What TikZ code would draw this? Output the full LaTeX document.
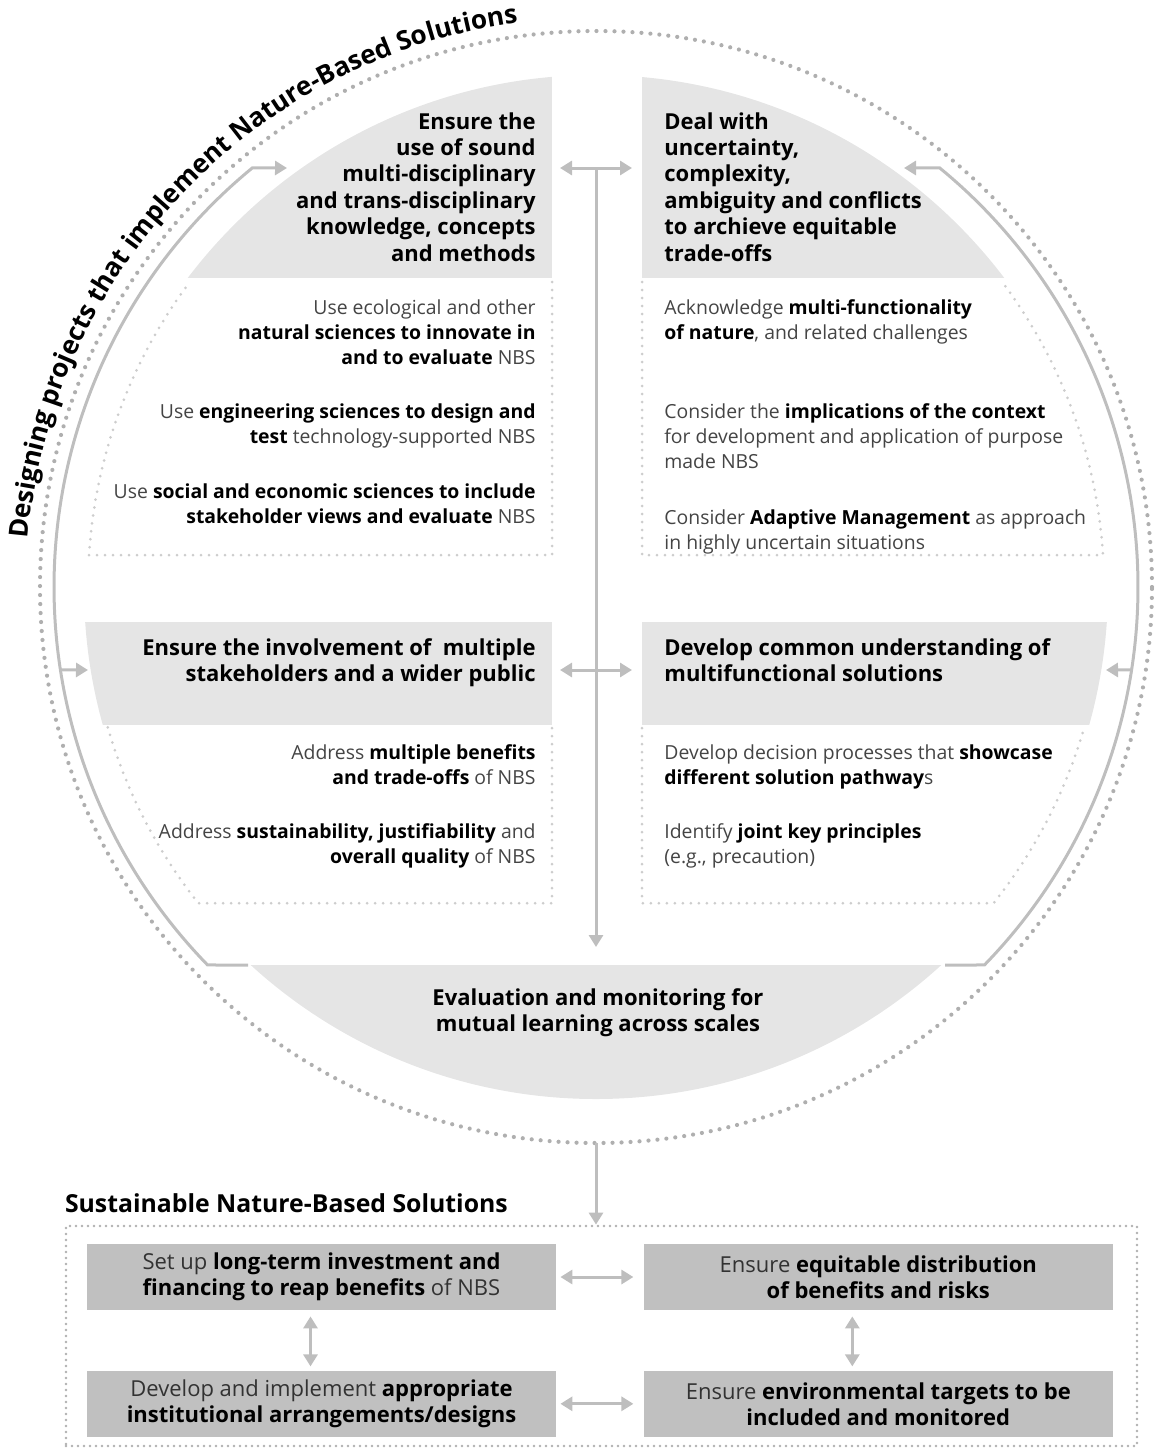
\documentclass[tikz,border=0pt]{standalone}
\usepackage{fontspec}
\setmainfont{Open Sans}
\usepackage{tikz}
\usetikzlibrary{arrows.meta,positioning,calc,decorations.text}
\definecolor{hdrgrey}{RGB}{229,229,229}
\definecolor{boxgrey}{RGB}{192,192,192}
\definecolor{arrgrey}{RGB}{190,190,190}
\definecolor{dotgrey}{RGB}{175,175,175}
\definecolor{dotlight}{RGB}{205,205,205}
\definecolor{txtgrey}{RGB}{68,68,68}
\definecolor{boxtxt}{RGB}{50,50,50}
\newcommand{\hl}[1]{\textbf{\color{black}#1}}

\begin{document}
\begin{tikzpicture}[x=0.5pt, y=0.5pt,
    hdr/.style={inner sep=0pt, font=\bfseries\fontsize{11}{13.2}\selectfont, text=black},
    hdrleft/.style={hdr, align=left, anchor=north west},
    hdrright/.style={hdr, align=right, anchor=north east},
    item/.style={inner sep=0pt, font=\fontsize{9.7}{12.6}\selectfont, text=txtgrey},
    itemleft/.style={item, align=left, anchor=north west},
    itemright/.style={item, align=right, anchor=north east},
    nbsbox/.style={fill=boxgrey, minimum width=234.5pt, minimum height=33pt,
        inner sep=0pt, align=center, font=\fontsize{11}{13}\selectfont, text=boxtxt},
    nbsframe/.style={draw=dotgrey, line width=1.4pt, dash pattern=on 0pt off 3pt,
        line cap=round, minimum width=535.5pt, minimum height=110pt, inner sep=0pt},
    outerdots/.style={draw=dotgrey, line width=2.1pt, dash pattern=on 0pt off 4.5pt, line cap=round},
    innerdots/.style={draw=dotlight, line width=1.5pt, dash pattern=on 0pt off 4pt, line cap=round},
    flow/.style={draw=arrgrey, line width=1.5pt},
    flowarr/.style={flow, -{Triangle[length=6pt,width=7pt]}},
    flowback/.style={flow, {Triangle[length=6pt,width=7pt]}-},
    flowboth/.style={flow, {Triangle[length=6pt,width=7pt]}-{Triangle[length=6pt,width=7pt]}}
]
    \useasboundingbox (0,0) rectangle (1159,-1456);
    \coordinate (C) at (596,-587);

    % grey header areas, cut by the circle
    \begin{scope}
        \clip (C) circle[radius=512];
        \fill[hdrgrey] (0,-60) rectangle (552,-278);
        \fill[hdrgrey] (642,-60) rectangle (1159,-278);
        \fill[hdrgrey] (0,-622) rectangle (552,-725);
        \fill[hdrgrey] (642,-622) rectangle (1159,-725);
        \fill[hdrgrey] (0,-965) rectangle (1159,-1200);
    \end{scope}

    % dotted boxes under the headers
    \draw[innerdots] (552,-282) |- ($(C)+(176.4:508)$) arc[start angle=176.4, end angle=143.1, radius=508];
    \draw[innerdots] (642,-282) |- ($(C)+(3.6:508)$) arc[start angle=3.6, end angle=36.9, radius=508];
    \draw[innerdots] (552,-728) |- ($(C)+(218.5:508)$) arc[start angle=218.5, end angle=196, radius=508];
    \draw[innerdots] (642,-728) |- ($(C)+(-38.5:508)$) arc[start angle=-38.5, end angle=-16, radius=508];

    % outer circle and title
    \draw[outerdots] (C) circle[radius=556];
    \path[decorate, decoration={text along path, text align=center,
        text={|\fontsize{13.1}{15}\selectfont\bfseries|Designing projects that implement Nature-Based Solutions}}]
        ($(C)+(185:570)$) arc[start angle=185, end angle=88, radius=570];

    % headers
    \node[hdrright] (knowhdr) at (536,-112) {Ensure the\\use of sound\\multi-disciplinary\\and trans-disciplinary\\knowledge, concepts\\and methods};
    \node[hdrleft] (uncerthdr) at (664,-112) {Deal with\\uncertainty,\\complexity,\\ambiguity and conflicts\\to archieve equitable\\trade-offs};
    \node[hdrright] (stakehdr) at (536,-638) {Ensure the involvement of \ multiple\\stakeholders and a wider public};
    \node[hdrleft] (commonhdr) at (664,-638) {Develop common understanding of\\multifunctional solutions};
    \node[hdr, align=center, anchor=north] (evalhdr) at (598,-988) {Evaluation and monitoring for\\mutual learning across scales};

    % items
    \node[itemright] (ecol) at (536,-299) {Use ecological and other\\\hl{natural sciences to innovate in}\\\hl{and to evaluate} NBS};
    \node[itemright] (engin) at (536,-403) {Use \hl{engineering sciences to design and}\\\hl{test} technology-supported NBS};
    \node[itemright] (socio) at (536,-483) {Use \hl{social and economic sciences to include}\\\hl{stakeholder views and evaluate} NBS};
    \node[itemleft] (multifn) at (664,-299) {Acknowledge \hl{multi-functionality}\\\hl{of nature}, and related challenges};
    \node[itemleft] (context) at (664,-403) {Consider the \hl{implications of the context}\\for development and application of purpose\\made NBS};
    \node[itemleft] (adaptive) at (664,-509) {Consider \hl{Adaptive Management} as approach\\in highly uncertain situations};
    \node[itemright] (benefits) at (536,-744) {Address \hl{multiple benefits}\\\hl{and trade-offs} of NBS};
    \node[itemright] (sustain) at (536,-823) {Address \hl{sustainability, justifiability} and\\\hl{overall quality} of NBS};
    \node[itemleft] (decision) at (664,-744) {Develop decision processes that \hl{showcase}\\\hl{different solution pathway}s};
    \node[itemleft] (principles) at (664,-823) {Identify \hl{joint key principles}\\(e.g., precaution)};

    % loop and hub arrows
    \coordinate (loopLtip) at (287,-168);
    \coordinate (loopLend) at (248,-965);
    \coordinate (loopRtip) at (904,-168);
    \coordinate (loopRend) at (945,-965);
    \coordinate (sideLtip) at (88,-670);
    \coordinate (sideRtip) at (1106,-670);
    \coordinate (hubtop) at (596,-168);
    \coordinate (hubend) at (596,-947);
    \draw[flowback] (loopLtip) -- ($(C)+(129.36:542)$) arc[start angle=129.36, end angle=224.22, radius=542] -- (loopLend);
    \draw[flowback] (loopRtip) -- ($(C)+(50.64:542)$) arc[start angle=50.64, end angle=-44.22, radius=542] -- (loopRend);
    \draw[flowarr] ($(C)+(188.8:542)$) -- (sideLtip);
    \draw[flowarr] ($(C)+(-8.8:542)$) -- (sideRtip);
    \draw[flowarr] (hubtop) -- (hubend);
    \draw[flowboth] ([xshift=-18pt]hubtop) -- ([xshift=18pt]hubtop);
    \draw[flowboth] ($(hubtop)+(-36,-502)$) -- ($(hubtop)+(36,-502)$);

    % sustainable NBS
    \node[nbsframe] (frame) at (601.5,-1336) {};
    \node[anchor=base west, inner sep=0pt, font=\bfseries\fontsize{12.4}{14}\selectfont]
        (nbslabel) at ([yshift=6pt]frame.north west) {Sustainable Nature-Based Solutions};
    \draw[flowarr] ($(C)+(0,-556)$) -- (frame.north -| C);

    \node[nbsbox] (invest) at (321.5,-1277) {Set up \hl{long-term investment and}\\\hl{financing to reap benefits} of NBS};
    \node[nbsbox, right=43.5pt of invest] (equit) {Ensure \hl{equitable distribution}\\\hl{of benefits and risks}};
    \node[nbsbox, below=30pt of invest] (instit) {Develop and implement \hl{appropriate}\\\hl{institutional arrangements/designs}};
    \node[nbsbox, below=30pt of equit] (envtarg) {Ensure \hl{environmental targets to be}\\\hl{included and monitored}};

    \draw[flowboth, shorten <=2pt, shorten >=5pt] (invest) -- (equit);
    \draw[flowboth, shorten <=2pt, shorten >=5pt] (instit) -- (envtarg);
    \draw[flowboth, shorten <=3pt, shorten >=2pt] ([xshift=-5.5pt]invest.south) -- ([xshift=-5.5pt]instit.north);
    \draw[flowboth, shorten <=3pt, shorten >=2pt] ([xshift=-13pt]equit.south) -- ([xshift=-13pt]envtarg.north);
\end{tikzpicture}
\end{document}
